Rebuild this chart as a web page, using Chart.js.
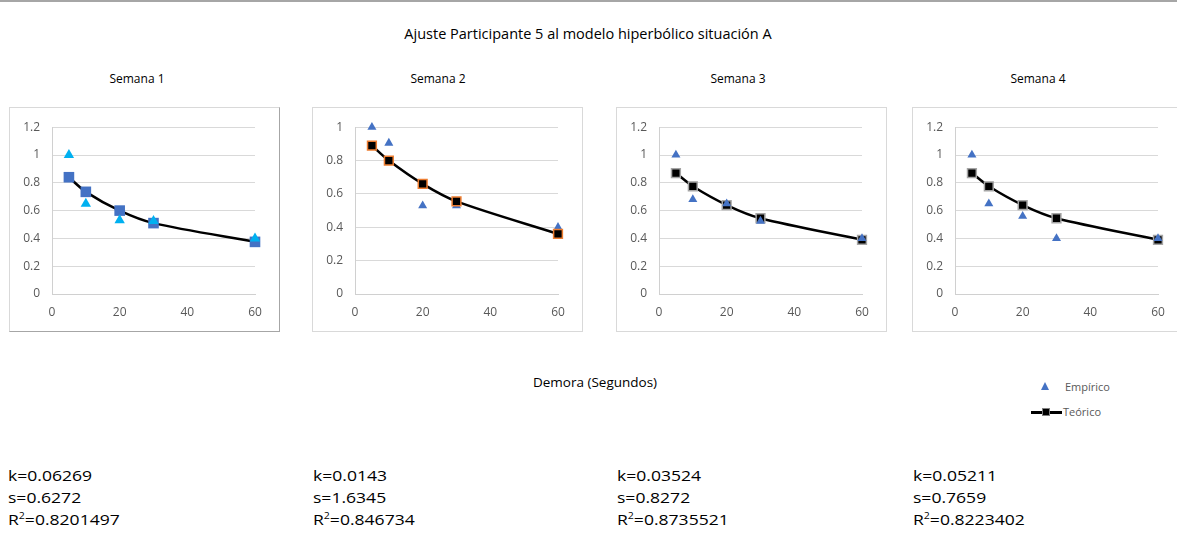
<!DOCTYPE html>
<html>
<head>
<meta charset="utf-8">
<script src="https://cdn.jsdelivr.net/npm/chart.js@4.4.1/dist/chart.umd.min.js"></script>
<style>
  body { margin: 0; width: 1177px; height: 550px; overflow: hidden; background: #fff; position: relative; font-family: "Open Sans", sans-serif; }
  .topline { position: absolute; left: 0; top: 0; width: 1177px; height: 2px; background: #a6a6a6; }
  .txt { position: absolute; white-space: nowrap; color: #000; }
  .center { transform: translateX(-50%); }
  .box { position: absolute; top: 107px; width: 269px; height: 223px; border: 1px solid #d9d9d9; }
  .box canvas { display: block; }
  .stats { position: absolute; top: 464px; font-size: 15px; line-height: 22px; color: #000; transform: scaleX(1.17); transform-origin: 0 0; }
  .legend { position: absolute; font-size: 11px; color: #595959; }
</style>
</head>
<body>
<div class="topline"></div>
<div class="txt center" style="left:588px; top:24px; font-size:14.5px;">Ajuste Participante 5 al modelo hiperbólico situación A</div>

<div class="txt center" style="left:137px; top:70px; font-size:12px;">Semana 1</div>
<div class="txt center" style="left:438px; top:70px; font-size:12px;">Semana 2</div>
<div class="txt center" style="left:738px; top:70px; font-size:12px;">Semana 3</div>
<div class="txt center" style="left:1038px; top:70px; font-size:12px;">Semana 4</div>

<div class="box" style="left:9px; border-color:#d9d9d9 #a6a6a6 #a6a6a6 #d9d9d9;"><canvas id="c1" width="269" height="223"></canvas></div>
<div class="box" style="left:312px;"><canvas id="c2" width="269" height="223"></canvas></div>
<div class="box" style="left:616px;"><canvas id="c3" width="269" height="223"></canvas></div>
<div class="box" style="left:912px;"><canvas id="c4" width="269" height="223"></canvas></div>

<div class="txt center" style="left:595px; top:373px; font-size:13.5px;">Demora (Segundos)</div>

<!-- legend -->
<div style="position:absolute; left:1041px; top:382px; width:0; height:0; border-left:4.5px solid transparent; border-right:4.5px solid transparent; border-bottom:8px solid #4472C4;"></div>
<div class="legend" style="left:1065px; top:379px;">Empírico</div>
<div style="position:absolute; left:1031px; top:411px; width:31px; height:2.5px; background:#000;"></div>
<div style="position:absolute; left:1042px; top:408px; width:6px; height:6px; background:#000; border:1px solid #7f7f7f;"></div>
<div class="legend" style="left:1063px; top:404px;">Teórico</div>

<div class="stats" style="left:8px;">k=0.06269<br>s=0.6272<br>R<sup style="font-size:9px; vertical-align:6px; line-height:0;">2</sup>=0.8201497</div>
<div class="stats" style="left:313px;">k=0.0143<br>s=1.6345<br>R<sup style="font-size:9px; vertical-align:6px; line-height:0;">2</sup>=0.846734</div>
<div class="stats" style="left:617px;">k=0.03524<br>s=0.8272<br>R<sup style="font-size:9px; vertical-align:6px; line-height:0;">2</sup>=0.8735521</div>
<div class="stats" style="left:913px;">k=0.05211<br>s=0.7659<br>R<sup style="font-size:9px; vertical-align:6px; line-height:0;">2</sup>=0.8223402</div>

<script>
// delays in seconds (x axis)
const delays = [5, 10, 20, 30, 60];

// semana 1
const empirico1 = [1.0, 0.65, 0.53, 0.525, 0.40];
const teorico1 = [0.84, 0.735, 0.60, 0.51, 0.375];
// semana 2
const empirico2 = [1.0, 0.905, 0.53, 0.53, 0.40];
const teorico2 = [0.89, 0.80, 0.66, 0.555, 0.36];
// semana 3
const empirico3 = [1.0, 0.68, 0.65, 0.525, 0.40];
const teorico3 = [0.87, 0.775, 0.64, 0.545, 0.39];
// semana 4
const empirico4 = [1.0, 0.65, 0.56, 0.40, 0.40];
const teorico4 = [0.87, 0.775, 0.64, 0.545, 0.39];

const xTicks = [0, 20, 40, 60];

function toPoints(xs, ys) {
  return xs.map((x, i) => ({ x: x, y: ys[i] }));
}

function makeChart(id, emp, teo, opts) {
  const ctx = document.getElementById(id);
  return new Chart(ctx, {
    type: 'scatter',
    data: {
      datasets: [
        {
          label: 'Teórico',
          data: toPoints(delays, teo),
          showLine: true,
          clip: false,
          tension: 0.3,
          borderColor: '#000',
          borderWidth: 2.5,
          pointStyle: 'rect',
          pointRadius: opts.sqRadius,
          pointBackgroundColor: opts.sqFill,
          pointBorderColor: opts.sqBorder,
          pointBorderWidth: opts.sqBorderWidth,
          order: opts.squaresOnTop ? 0 : 1
        },
        {
          label: 'Empírico',
          data: toPoints(delays, emp),
          showLine: false,
          clip: false,
          pointStyle: 'triangle',
          pointRadius: opts.triRadius,
          pointBackgroundColor: opts.triColor,
          pointBorderColor: opts.triColor,
          pointBorderWidth: 0,
          order: opts.squaresOnTop ? 1 : 0
        }
      ]
    },
    options: {
      responsive: false,
      animation: false,
      layout: { padding: { top: 19, right: 24, bottom: 0, left: 0 } },
      plugins: { legend: { display: false }, tooltip: { enabled: false } },
      scales: {
        x: {
          type: 'linear',
          min: 0, max: 60,
          afterBuildTicks: (axis) => { axis.ticks = xTicks.map(v => ({ value: v })); },
          afterFit: (axis) => { axis.height = 37; },
          grid: { display: false, drawTicks: false },
          border: { display: true, color: '#d0d0d0', width: 1 },
          ticks: { color: '#595959', font: { family: 'Open Sans', size: 12 }, padding: 11, maxRotation: 0 }
        },
        y: {
          min: 0, max: opts.yMax,
          afterFit: (axis) => { axis.width = 42; },
          grid: { color: '#d9d9d9', drawTicks: false },
          border: { display: true, color: '#d0d0d0', width: 1 },
          ticks: { stepSize: 0.2, color: '#595959', font: { family: 'Open Sans', size: 12 }, padding: 12,
                   callback: (v) => Math.round(v * 10) / 10 }
        }
      }
    }
  });
}

makeChart('c1', empirico1, teorico1, { yMax: 1.2, triColor: '#00B0F0', sqFill: '#4472C4', sqBorder: '#4472C4', sqBorderWidth: 0, sqRadius: 7.5, triRadius: 6, squaresOnTop: false });
makeChart('c2', empirico2, teorico2, { yMax: 1.0, triColor: '#4472C4', sqFill: '#000', sqBorder: '#ED7D31', sqBorderWidth: 1.5, sqRadius: 6.2, triRadius: 5.2, squaresOnTop: true });
makeChart('c3', empirico3, teorico3, { yMax: 1.2, triColor: '#4472C4', sqFill: '#000', sqBorder: '#A5A5A5', sqBorderWidth: 1.5, sqRadius: 6.2, triRadius: 5.2, squaresOnTop: false });
makeChart('c4', empirico4, teorico4, { yMax: 1.2, triColor: '#4472C4', sqFill: '#000', sqBorder: '#A5A5A5', sqBorderWidth: 1.5, sqRadius: 6.2, triRadius: 5.2, squaresOnTop: false });
</script>
</body>
</html>
